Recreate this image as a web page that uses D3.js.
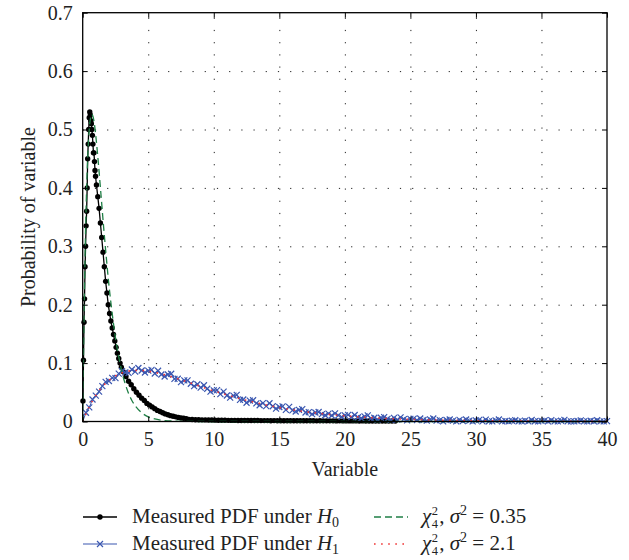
<!DOCTYPE html>
<html>

<head>
    <meta charset="UTF-8">
    <style>
        body {
            margin: 0;
            background: #fff;
        }

        svg {
            display: block;
            font-family: "Liberation Serif", serif;
        }

        .grid line {
            stroke: #222;
            stroke-dasharray: 1.2, 11;
        }

        .grid path {
            display: none;
        }
    </style>
</head>

<body>
    <svg></svg>

    <script src="https://d3js.org/d3.v7.min.js"></script>

    <script>
        let width = 629, height = 560;
        let margin = { left: 82.7, right: 22, top: 12.7, bottom: 138.5 };
        let serif = "'Liberation Serif', 'Times New Roman', serif";

        // measured PDF under H0 (black dots)
        let h0Var = [0.02, 0.06, 0.10, 0.14, 0.18, 0.22, 0.26, 0.30, 0.34, 0.38, 0.42, 0.46, 0.50, 0.54, 0.58, 0.62, 0.66, 0.70, 0.74, 0.78, 0.82, 0.86, 0.90, 0.94, 0.98,
            1.05, 1.15, 1.25, 1.35, 1.45, 1.55, 1.65, 1.75, 1.85, 1.95, 2.05, 2.15, 2.25, 2.35, 2.45, 2.55, 2.65, 2.75, 2.85, 2.95,
            3.1, 3.3, 3.5, 3.7, 3.9, 4.1, 4.3, 4.5, 4.7, 4.9, 5.1, 5.3, 5.5, 5.7, 5.9, 6.1, 6.3, 6.5, 6.7, 6.9, 7.1, 7.3, 7.5, 7.7, 7.9,
            8.1, 8.35, 8.6, 8.85, 9.1, 9.35, 9.6, 9.85, 10.1, 10.35, 10.6, 10.85, 11.1, 11.35, 11.6, 11.85, 12.1, 12.35, 12.6, 12.85, 13.1, 13.35, 13.6, 13.85,
            14.1, 14.35, 14.6, 14.85, 15.1, 15.35, 15.6, 15.85, 16.1, 16.35, 16.6, 16.85, 17.1, 17.35, 17.6, 17.85, 18.1, 18.35, 18.6, 18.85,
            19.1, 19.35, 19.6, 19.85, 20.1, 20.35, 20.6, 20.85, 21.1, 21.35, 21.6, 21.85, 22.1, 22.35, 22.6, 22.85, 23.1, 23.35, 23.6, 23.85];
        let h0Prob = [0.035, 0.105, 0.17, 0.21, 0.265, 0.30, 0.335, 0.36, 0.40, 0.45, 0.475, 0.50, 0.52, 0.53, 0.525, 0.515, 0.51, 0.50, 0.49, 0.475, 0.46, 0.46, 0.445, 0.43, 0.42,
            0.405, 0.385, 0.365, 0.34, 0.315, 0.29, 0.265, 0.24, 0.22, 0.20, 0.185, 0.172, 0.16, 0.149, 0.138, 0.127, 0.117, 0.108, 0.100, 0.093,
            0.085, 0.077, 0.069, 0.063, 0.056, 0.050, 0.045, 0.040, 0.036, 0.031, 0.028, 0.025, 0.022, 0.019, 0.017, 0.015, 0.013, 0.0115, 0.010, 0.009, 0.008, 0.007, 0.006, 0.0055, 0.005,
            0.0036, 0.0033, 0.0031, 0.0030, 0.0028, 0.0027, 0.0025, 0.0025, 0.0023, 0.0022, 0.0021, 0.0021, 0.0020, 0.0019, 0.0019, 0.0018, 0.0018, 0.0017, 0.0017, 0.0016, 0.0016, 0.0016, 0.0015, 0.0015,
            0.0015, 0.0014, 0.0015, 0.0014, 0.0014, 0.0013, 0.0014, 0.0013, 0.0013, 0.0013, 0.0012, 0.0013, 0.0012, 0.0012, 0.0012, 0.0011, 0.0012, 0.0011, 0.0011, 0.0011,
            0.0011, 0.0010, 0.0011, 0.0010, 0.0010, 0.0010, 0.0010, 0.0010, 0.0009, 0.0010, 0.0009, 0.0009, 0.0009, 0.0009, 0.0009, 0.0008, 0.0009, 0.0008, 0.0008, 0.0008];

        // measured PDF under H1 (blue crosses), sampled every 0.25
        let h1Var = d3.range(0, 161).map(i => i * 0.25);
        let h1Prob = [0,
            0.0149, 0.0242, 0.0376, 0.0442, 0.0511, 0.0605, 0.0679, 0.0694,
            0.0747, 0.0742, 0.0820, 0.0863, 0.0840, 0.0832, 0.0891, 0.0855, 0.0916, 0.0874, 0.0839, 0.0872,
            0.0883, 0.0822, 0.0869, 0.0805, 0.0770, 0.0804, 0.0817, 0.0730, 0.0732, 0.0673, 0.0704, 0.0705,
            0.0646, 0.0607, 0.0638, 0.0579, 0.0620, 0.0561, 0.0512, 0.0534, 0.0536, 0.0469, 0.0512, 0.0445,
            0.0408, 0.0442, 0.0456, 0.0371, 0.0376, 0.0321, 0.0357, 0.0364, 0.0311, 0.0278, 0.0315, 0.0263,
            0.0312, 0.0261, 0.0220, 0.0249, 0.0259, 0.0199, 0.0250, 0.0191,
            0.0171, 0.0198, 0.0211, 0.0154, 0.0161, 0.0126, 0.0154, 0.0162, 0.0127, 0.0107, 0.0136, 0.0103,
            0.0139, 0.0106, 0.0080, 0.0104, 0.0114, 0.0075, 0.0112, 0.0073, 0.0056, 0.0087, 0.0105, 0.0052,
            0.0064, 0.0033, 0.0065, 0.0076, 0.0045, 0.0029, 0.0061, 0.0031, 0.0071, 0.0041, 0.0018, 0.0044,
            0.0050, 0.0024, 0.0052, 0.0025, 0.0014, 0.0037, 0.0051, 0.0015, 0.0024, 0.0002, 0.0026, 0.0035,
            0.0014, 0.0003, 0.0027, 0.0006, 0.0035, 0.0014, 0.0002, 0.0018, 0.0027, 0.0001, 0.0031, 0.0005,
            0.0002, 0.0019, 0.0034, 0.0003, 0.0008, 0.0001, 0.0012, 0.0022, 0.0002, 0.0001, 0.0016, 0.0002,
            0.0025, 0.0005, 0.0001, 0.0010, 0.0019, 0.0001, 0.0024, 0.0002, 0.0001, 0.0013, 0.0028, 0.0001,
            0.0003, 0.0001, 0.0008, 0.0018, 0.0001, 0.0001, 0.0012, 0.0001, 0.0022, 0.0002, 0.0001, 0.0007];

        // chi-square curve, sigma^2 = 0.35 (green dashed)
        let chi0Var = [0, 0.05, 0.1, 0.15, 0.2, 0.3, 0.4, 0.5, 0.6, 0.7, 0.8, 0.9, 1.0, 1.2, 1.4, 1.6, 1.8, 2.0, 2.2, 2.4, 2.6, 2.8, 3.0, 3.25, 3.5, 3.75, 4.0, 4.5, 5, 5.5, 6, 7, 8, 10, 15, 20, 25, 30, 35, 40];
        let chi0Prob = [0, 0.095, 0.177, 0.247, 0.307, 0.399, 0.461, 0.500, 0.520, 0.526, 0.521, 0.508, 0.489, 0.441, 0.387, 0.332, 0.281, 0.234, 0.194, 0.159, 0.129, 0.105, 0.084, 0.064, 0.048, 0.036, 0.027, 0.015, 0.008, 0.0043, 0.0023, 0.0006, 0.0001, 0, 0, 0, 0, 0, 0, 0];

        // chi-square curve, sigma^2 = 2.1 (red dotted)
        let chi1Var = [0, 0.5, 1, 1.5, 2, 2.5, 3, 3.5, 4, 4.5, 5, 6, 7, 8, 9, 10, 11, 12, 13, 14, 15, 16, 17, 18, 19, 20, 22, 24, 26, 28, 30, 32, 34, 36, 38, 40];
        let chi1Prob = [0, 0.0252, 0.0447, 0.0595, 0.0704, 0.0782, 0.0833, 0.0862, 0.0875, 0.0874, 0.0862, 0.0815, 0.0750, 0.0675, 0.0599, 0.0524, 0.0455, 0.0391, 0.0334, 0.0283, 0.0239, 0.0201, 0.0168, 0.0141, 0.0117, 0.0097, 0.0066, 0.0045, 0.0030, 0.0020, 0.0013, 0.0009, 0.0006, 0.0004, 0.00025, 0.00017];

        let xTicks = [0, 5, 10, 15, 20, 25, 30, 35, 40];
        let yTicks = [0, 0.1, 0.2, 0.3, 0.4, 0.5, 0.6, 0.7];

        let blue = "#3a57b0", green = "#1f7f45", red = "#f03434";

        let svg = d3.select("svg")
            .attr("width", width)
            .attr("height", height)
            .attr("font-family", serif);

        let x = d3.scaleLinear().domain([0, 40]).range([margin.left, width - margin.right]);
        let y = d3.scaleLinear().domain([0, 0.7]).range([height - margin.bottom, margin.top]);

        let x0 = x.range()[0], x1 = x.range()[1], y0 = y.range()[0], y1 = y.range()[1];

        // dotted grid
        svg.append("g")
            .attr("class", "grid")
            .attr("transform", "translate(0," + y0 + ")")
            .call(d3.axisBottom(x).tickValues(xTicks.slice(1, -1)).tickSize(-(y0 - y1)).tickFormat(""));
        svg.append("g")
            .attr("class", "grid")
            .attr("transform", "translate(" + x0 + ",0)")
            .call(d3.axisLeft(y).tickValues(yTicks.slice(1, -1)).tickSize(-(x1 - x0)).tickFormat(""));

        let toPts = (xs, ys) => xs.map((v, i) => [v, ys[i]]);
        let line = d3.line().x(d => x(d[0])).y(d => y(d[1]));

        let h0 = toPts(h0Var, h0Prob);
        let h1 = toPts(h1Var, h1Prob);

        let plot = svg.append("g");

        // H0 measured
        plot.append("path")
            .datum(h0)
            .attr("fill", "none")
            .attr("stroke", "#000")
            .attr("stroke-width", 1.3)
            .attr("d", line);
        plot.append("g")
            .selectAll("circle")
            .data(h0)
            .enter()
            .append("circle")
            .attr("cx", d => x(d[0]))
            .attr("cy", d => y(d[1]))
            .attr("r", 2.7)
            .attr("fill", "#000");

        // H1 measured
        plot.append("path")
            .datum(h1)
            .attr("fill", "none")
            .attr("stroke", blue)
            .attr("stroke-width", 1)
            .attr("d", line);
        let cross = "M-3,-3L3,3M-3,3L3,-3";
        plot.append("g")
            .selectAll("path")
            .data(h1.slice(1))
            .enter()
            .append("path")
            .attr("transform", d => "translate(" + x(d[0]) + "," + y(d[1]) + ")")
            .attr("d", cross)
            .attr("stroke", blue)
            .attr("stroke-width", 1.2)
            .attr("fill", "none");

        // theoretical curves
        let smooth = d3.line().x(d => x(d[0])).y(d => y(d[1])).curve(d3.curveMonotoneX);
        plot.append("path")
            .datum(toPts(chi0Var, chi0Prob))
            .attr("fill", "none")
            .attr("stroke", green)
            .attr("stroke-width", 1.3)
            .attr("stroke-dasharray", "7,4")
            .attr("d", smooth);
        plot.append("path")
            .datum(toPts(chi1Var, chi1Prob))
            .attr("fill", "none")
            .attr("stroke", red)
            .attr("stroke-width", 1.6)
            .attr("stroke-dasharray", "1.6,5.5")
            .attr("d", smooth);

        // axes with inward ticks on all sides
        function styleAxis(g) {
            g.select(".domain").remove();
            g.attr("font-family", serif).attr("font-size", 20);
            g.selectAll(".tick line").attr("stroke", "#000");
            g.selectAll(".tick text").attr("fill", "#222").attr("font-family", serif).attr("font-size", 20);
        }

        svg.append("g")
            .attr("transform", "translate(0," + y0 + ")")
            .call(d3.axisBottom(x).tickValues(xTicks).tickSize(-5).tickPadding(10))
            .call(styleAxis);
        svg.append("g")
            .attr("transform", "translate(" + x0 + ",0)")
            .call(d3.axisLeft(y).tickValues(yTicks).tickSize(-5).tickPadding(10).tickFormat(d => d === 0 ? "0" : d3.format(".1f")(d)))
            .call(styleAxis);
        svg.append("g")
            .attr("transform", "translate(0," + y1 + ")")
            .call(d3.axisTop(x).tickValues(xTicks).tickSize(-5).tickFormat(""))
            .call(styleAxis);
        svg.append("g")
            .attr("transform", "translate(" + x1 + ",0)")
            .call(d3.axisRight(y).tickValues(yTicks).tickSize(-5).tickFormat(""))
            .call(styleAxis);

        svg.append("rect")
            .attr("x", x0)
            .attr("y", y1)
            .attr("width", x1 - x0)
            .attr("height", y0 - y1)
            .attr("fill", "none")
            .attr("stroke", "#000")
            .attr("stroke-width", 1.3);

        // axis titles
        svg.append("text")
            .attr("x", (x0 + x1) / 2)
            .attr("y", 476)
            .attr("text-anchor", "middle")
            .attr("font-size", 20)
            .attr("fill", "#222")
            .text("Variable");
        svg.append("text")
            .attr("transform", "translate(35," + (y0 + y1) / 2 + ") rotate(-90)")
            .attr("text-anchor", "middle")
            .attr("font-size", 20)
            .attr("fill", "#222")
            .text("Probability of variable");

        // legend
        let rowY = [517, 544];
        let leg = svg.append("g").attr("font-size", 21).attr("fill", "#222");

        function legLine(cx, cy, color, dash, width) {
            leg.append("line")
                .attr("x1", cx - 17).attr("x2", cx + 17)
                .attr("y1", cy).attr("y2", cy)
                .attr("stroke", color)
                .attr("stroke-width", width)
                .attr("stroke-dasharray", dash);
        }

        legLine(100, rowY[0], "#000", null, 1.3);
        leg.append("circle").attr("cx", 100).attr("cy", rowY[0]).attr("r", 2.7).attr("fill", "#000");
        legLine(100, rowY[1], blue, null, 1.2);
        leg.append("path").attr("transform", "translate(100," + rowY[1] + ")").attr("d", cross)
            .attr("stroke", blue).attr("stroke-width", 1.2);
        legLine(391, rowY[0], green, "7,4", 1.3);
        legLine(391, rowY[1], red, "1.6,5.5", 1.6);

        ["0", "1"].forEach((s, i) => {
            let t = leg.append("text").attr("x", 132).attr("y", rowY[i] + 6);
            t.append("tspan").text("Measured PDF under ");
            t.append("tspan").attr("font-style", "italic").text("H");
            t.append("tspan").attr("font-size", 14).attr("dy", 4).text(s);
        });

        // chi-square entries: stacked super/subscript after chi
        ["0.35", "2.1"].forEach((v, i) => {
            let by = rowY[i] + 6;
            let chi = leg.append("text").attr("x", 422).attr("y", by).attr("font-style", "italic").text("χ");
            let cw = chi.node().getComputedTextLength();
            leg.append("text").attr("x", 422 + cw + 0.5).attr("y", by - 8.5).attr("font-size", 12.5).text("2");
            leg.append("text").attr("x", 422 + cw + 0.5).attr("y", by + 5).attr("font-size", 12.5).text("4");
            let t = leg.append("text").attr("x", 422 + cw + 8).attr("y", by);
            t.append("tspan").text(", ");
            t.append("tspan").attr("font-style", "italic").text("σ");
            t.append("tspan").attr("font-size", 14).attr("dy", -8).text("2");
            t.append("tspan").attr("dy", 8).text(" = " + v);
        });
    </script>

</body>

</html>
